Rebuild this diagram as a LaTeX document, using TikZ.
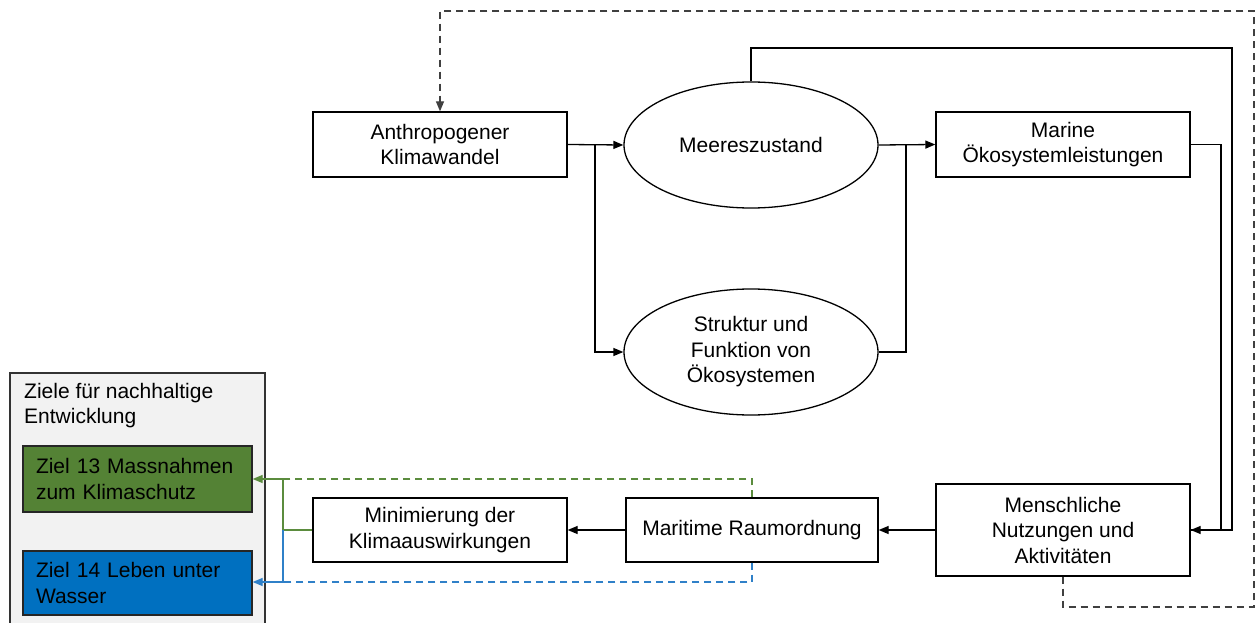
\documentclass[tikz,border=0pt]{standalone}
\usepackage{fontspec}
\setmainfont{Liberation Sans}
\usetikzlibrary{shapes.geometric,arrows.meta}
\definecolor{zgreen}{HTML}{548235}
\definecolor{zblue}{HTML}{0070C0}
\definecolor{lgreen}{HTML}{5B8C3E}
\definecolor{lblue}{HTML}{2F80C8}
\definecolor{grpfill}{HTML}{F2F2F2}
\newcommand\diafont{\fontsize{21}{25.5}\selectfont}
\begin{document}
\begin{tikzpicture}[x=1pt,y=-1pt,
  box/.style={draw, line width=1.3pt, rectangle, inner sep=0pt, align=center, font=\diafont, minimum width=254pt},
  oval/.style={draw, line width=1.3pt, ellipse, inner sep=0pt, align=center, font=\diafont, minimum width=254pt, minimum height=126pt},
  goal/.style={draw=black!85, line width=1.3pt, rectangle, inner ysep=0pt, inner xsep=13pt, text width=203pt, align=left, font=\diafont},
  arr/.style={line width=1.3pt, -{Triangle[length=10pt,width=8pt]}},
  plain/.style={line width=1.3pt},
  dsh/.style={line width=1.3pt, draw=black!75, dash pattern=on 7pt off 5pt},
]
\useasboundingbox (0,0) rectangle (1256,623);
\fill[white] (0,0) rectangle (1256,623);

% group
\draw[draw=black!80, fill=grpfill, line width=1.3pt] (10,373) rectangle (265,640);
\node[anchor=west, align=left, font=\diafont, inner sep=0pt] (grp) at (24,405.5) {Ziele für nachhaltige\\Entwicklung};
\node[goal, fill=zgreen, minimum height=66pt] (z13) at (137.5,479) {Ziel 13 Massnahmen\\zum Klimaschutz};
\node[goal, fill=zblue, minimum height=64pt] (z14) at (137.5,583) {Ziel 14 Leben unter\\Wasser};

% nodes
\node[box, minimum height=65pt] (anth) at (440,144.5) {Anthropogener\\Klimawandel};
\node[oval] (meer) at (751,145) {Meereszustand};
\node[oval] (strukt) at (751,352) {Struktur und\\Funktion von\\Ökosystemen};
\node[box, minimum height=65pt] (marine) at (1063,144.5) {Marine\\Ökosystemleistungen};
\node[box, minimum height=92pt] (mensch) at (1063,530) {Menschliche\\Nutzungen und\\Aktivitäten};
\node[box, minimum width=252pt, minimum height=64pt] (marit) at (752,530) {Maritime Raumordnung};
\node[box, minimum height=64pt] (mini) at (440,530) {Minimierung der\\Klimaauswirkungen};

% coordinates
\coordinate (j1) at (595,144.5);
\coordinate (j2) at (906,144.5);
\coordinate (top) at (1232,48);
\coordinate (mr) at (1221,144.5);
\coordinate (d1) at (1254,607);
\coordinate (d2) at (440,11);
\coordinate (jg) at (283,530);
\coordinate (gtop) at (283,479);
\coordinate (gbot) at (283,582);

% connectors
\draw[arr] (anth.east) -- (meer.west);
\draw[arr] (j1) |- (strukt.west);
\draw[arr] (meer.east) -- (marine.west);
\draw[plain] (strukt.east) -| (j2);
\draw[plain] (meer.north) |- (top) |- (mensch.east);
\draw[arr] (marine.east) -- (mr) |- (mensch.east);
\draw[dsh, -{Triangle[length=10pt,width=8pt]}] (mensch.south) |- (d1) |- (d2) -- (anth.north);
\draw[arr] (mensch.west) -- (marit.east);
\draw[arr] (marit.west) -- (mini.east);

\draw[plain, draw=lgreen] (mini.west) -- (jg);
\draw[line width=1.3pt, draw=lgreen, -{Triangle[length=10pt,width=8pt]}] (jg) |- (z13.east);
\draw[line width=1.3pt, draw=lblue, -{Triangle[length=10pt,width=8pt]}] (jg) |- (gbot) -- (gbot -| z14.east);
\draw[line width=1.3pt, draw=lgreen, dash pattern=on 7pt off 5pt] (marit.north) |- (gtop);
\draw[line width=1.3pt, draw=lblue, dash pattern=on 7pt off 5pt] (marit.south) |- (gbot);
\end{tikzpicture}
\end{document}
